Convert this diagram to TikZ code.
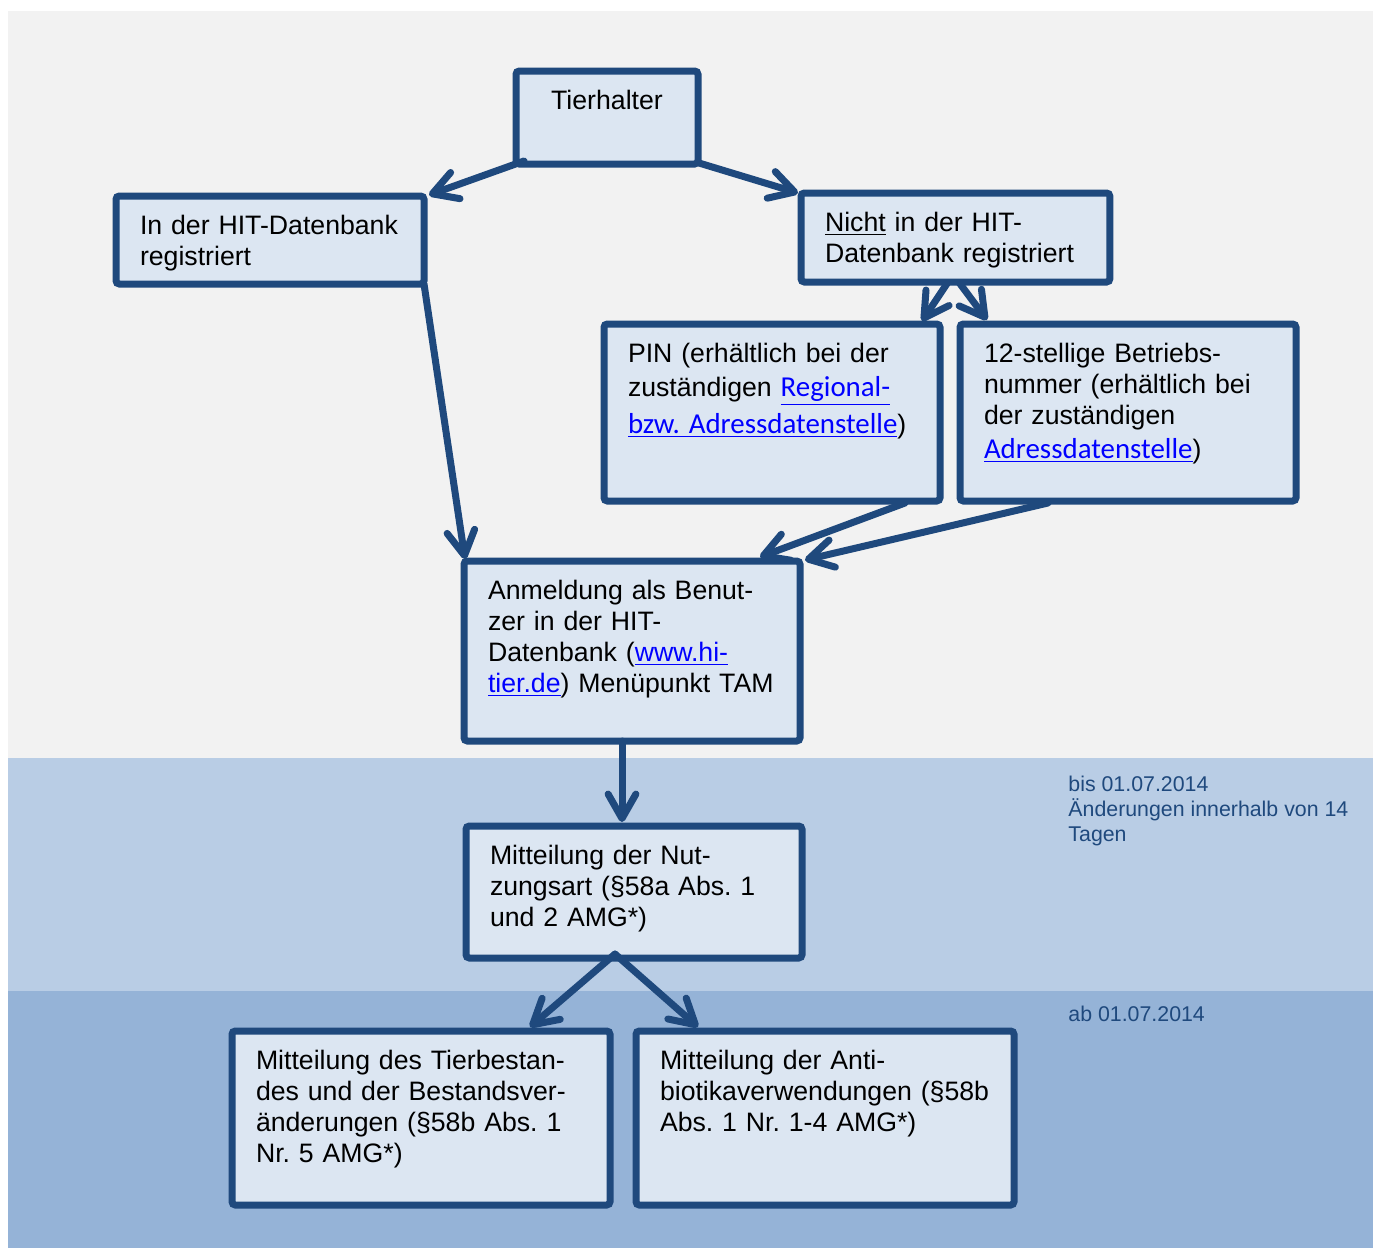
\documentclass[tikz,border=0pt]{standalone}
\usepackage{fontspec}
\setmainfont{Liberation Sans}
\newfontfamily\linkfont{Carlito}
\usetikzlibrary{arrows.meta,calc,positioning}
\newcommand\hlink[1]{\textcolor{link}{\underline{\linkfont\fontsize{13}{13.9}\selectfont #1}}}
\newcommand\wlink[1]{\textcolor{link}{\underline{#1}}}
\frenchspacing

\begin{document}
\begin{tikzpicture}[x=0.45pt,y=-0.45pt]
\definecolor{frame}{HTML}{1F497D}  \definecolor{boxfill}{HTML}{DCE6F2}
\definecolor{paper}{HTML}{F2F2F2}  \definecolor{bandA}{HTML}{B9CDE5}
\definecolor{bandB}{HTML}{95B3D7}  \colorlet{link}{blue}
\tikzset{
  box/.style 2 args={draw=frame,fill=boxfill,line width=3.15pt,rounded corners=1.5pt,
    outer sep=0pt,anchor=north west,align=left,inner xsep=10.8pt,inner ysep=8.3pt,
    text height=9pt,text width=#1,text depth=#2,font=\fontsize{12}{13.9}\selectfont},
  conn/.style={draw=frame,line width=3.15pt,line cap=round,
    -{Straight Barb[length=11pt,width=12.5pt,round]}},
  note/.style={anchor=base west,inner sep=0pt,align=left,text=frame,
    font=\fontsize{9.6}{11.25}\selectfont}
}
\useasboundingbox (0,0) rectangle (1373,1248);
\fill[paper] (8,11) rectangle (1373,758);
\fill[bandA] (8,758) rectangle (1373,991);
\fill[bandB] (8,991) rectangle (1373,1248);

\node[box={60.3pt}{16.25pt},align=center] (tier) at (516,71) {Tierhalter};
\node[box={117pt}{14pt}] (hit) at (116,196) {In der HIT-Datenbank\\registriert};
\node[box={117.4pt}{14.45pt}] (nicht) at (801,193) {\underline{Nicht} in der HIT-\\Datenbank registriert};
\node[box={129.6pt}{54.05pt}] (pin) at (604,324)
  {PIN (erhältlich bei der\\[1.4pt] zuständigen \hlink{Regional-}\\[2.7pt] \hlink{bzw. Adressdatenstelle})};
\node[box={129.6pt}{54.05pt}] (betr) at (960,324)
  {12-stellige Betriebs-\\nummer (erhältlich bei\\der zuständigen\\[1.5pt] \hlink{Adressdatenstelle})};
\node[box={129.6pt}{55.4pt}] (anm) at (464,561)
  {Anmeldung als Benut-\\zer in der HIT-\\Datenbank (\wlink{www.hi-}\\\wlink{tier.de}) Menüpunkt TAM};
\node[box={129.6pt}{33.8pt}] (nutz) at (466,826)
  {Mitteilung der Nut-\\zungsart (§58a Abs. 1\\und 2 AMG*)};
\node[box={148.5pt}{52.7pt}] (best) at (232,1031)
  {Mitteilung des Tierbestan-\\des und der Bestandsver-\\änderungen (§58b Abs. 1\\Nr. 5 AMG*)};
\node[box={148.5pt}{52.7pt}] (anti) at (636,1031)
  {Mitteilung der Anti-\\biotikaverwendungen (§58b\\Abs. 1 Nr. 1-4 AMG*)};

\node[note] (bis) at (1068,841) {bis 01.07.2014\\Änderungen innerhalb von 14\\Tagen};
\node[note] (ab) at (1068,1021) {ab 01.07.2014};

\draw[conn] ($(tier.south west)+(8,-3)$) -- ($(hit.north east)+(5,-1)$);
\draw[conn] ($(tier.south east)+(1,-1)$) -- ($(nicht.north west)+(-3,0)$);
\draw[conn] (hit.south east) -- ($(anm.north west)+(1,-2)$);
\draw[conn] ($(nicht.south)+(-8,1)$) -- ($(pin.north east)+(-18,-3)$);
\draw[conn] ($(nicht.south)+(4,1)$) -- ($(betr.north west)+(27,-4)$);
\draw[conn] ($(pin.south east)+(-35,2)$) -- ($(anm.north east)+(-40,-4)$);
\draw[conn] ($(betr.south west)+(88,2)$) -- ($(anm.north east)+(5,-1)$);
\draw[conn] ($(anm.south)+(-10,0)$) -- ($(nutz.north)+(-12,-4)$);
\draw[conn] ($(nutz.south)+(-19,-4)$) -- ($(best.north east)+(-80,-4)$);
\draw[conn] ($(nutz.south)+(-19,-4)$) -- ($(anti.north west)+(62,-4)$);
\end{tikzpicture}
\end{document}
